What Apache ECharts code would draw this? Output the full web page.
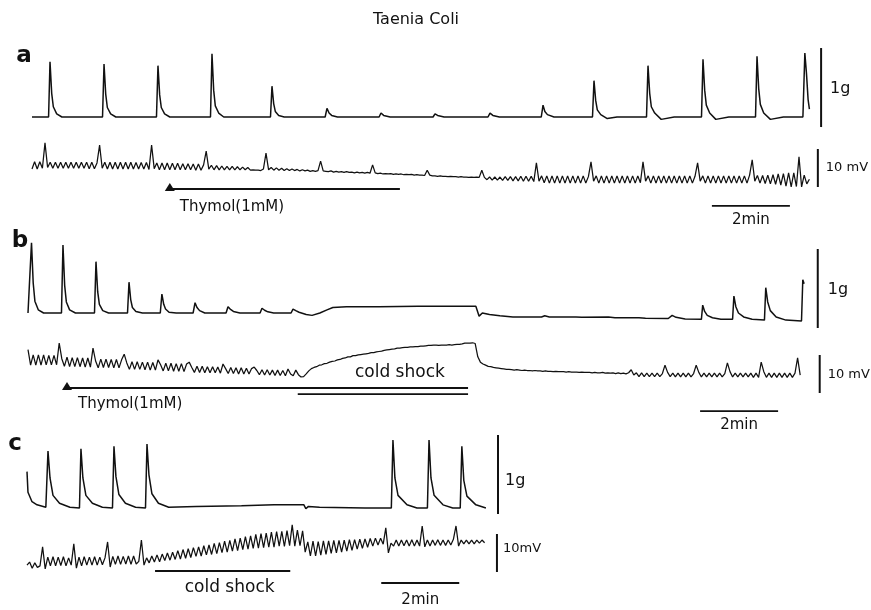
<!DOCTYPE html>
<html>
<head>
<meta charset="utf-8">
<script src="https://cdn.jsdelivr.net/npm/echarts@6/dist/echarts.min.js"></script>
<style>html,body{margin:0;padding:0;background:#fff}#chart{width:871px;height:610px}</style>
</head>
<body>
<div id="chart"></div>
<script>
// ================= DATA =================
const TITLE = 'Taenia Coli';
const PANEL_LETTERS = ['a', 'b', 'c'];

// Tension traces: [time (s), tension (g) relative to resting baseline]
const tensionA = [
  [0,0],[25.5,0],[27.7,0.70],[30.3,0.30],[32.8,0.13],[38,0.04],[46,0],
  [108.5,0],[110.8,0.67],[113.4,0.29],[115.9,0.12],[121,0.04],[129,0],
  [191.5,0],[193.8,0.65],[196.4,0.28],[198.9,0.12],[204,0.04],[212,0],
  [274.6,0],[276.9,0.80],[279.5,0.34],[282,0.14],[287.2,0.05],[295,0],
  [366.9,0],[369.2,0.39],[371.8,0.17],[374.3,0.07],[379.5,0.02],[388,0],
  [451,0],[453.8,0.11],[457,0.05],[461,0.02],[470,0],
  [534,0],[536.9,0.05],[541,0.02],[551,0],
  [617,0],[620,0.04],[624,0.02],[634,0],
  [701.5,0],[704.6,0.05],[709,0.02],[719,0],
  [783.5,0],[786.2,0.15],[789,0.07],[793,0.03],[803,0],
  [862.3,0],[864.6,0.46],[867.2,0.21],[869.7,0.09],[875,0.03],[885,-0.02],[900,0],
  [945.4,0],[947.7,0.65],[950.3,0.30],[952.8,0.13],[958,0.05],[968,-0.03],[988,0],
  [1030,0],[1032.3,0.73],[1034.9,0.34],[1037.4,0.15],[1042.6,0.05],[1052,-0.03],[1072,0],
  [1113.1,0],[1115.4,0.77],[1118,0.36],[1120.5,0.16],[1125.7,0.05],[1136,-0.03],[1156,0],
  [1186,0],[1189,0.81],[1191.5,0.55],[1194,0.22],[1196,0.1]
];
const tensionB = [
  [0,0],[3,0.5],[5.4,0.89],[8,0.38],[10.6,0.15],[15.8,0.04],[24,0],
  [51.5,0],[53.8,0.86],[56.4,0.35],[59,0.14],[64,0.04],[73,0],
  [102.3,0],[104.6,0.65],[107.2,0.27],[109.8,0.11],[115,0.03],[124,0],
  [153.1,0],[155.4,0.39],[158,0.17],[160.6,0.07],[166,0.02],[176,0],
  [203.5,0],[206,0.24],[208.8,0.11],[211.6,0.05],[217,0.01],[228,0],
  [254,0],[257,0.13],[260,0.07],[264,0.03],[272,0],
  [304.7,0],[307.7,0.08],[311,0.05],[316,0.02],[326,0],
  [357,0],[360,0.06],[364,0.035],[369,0.015],[378,0],
  [404.7,0],[407.7,0.05],[412,0.03],[417,0.01],[428,-0.02],[437,-0.03],[449,0],[460,0.04],[469,0.07],
  [490,0.08],[540,0.08],[600,0.085],[650,0.085],[689,0.085],
  [694,-0.04],[699,0],[710,-0.02],[726,-0.035],[746,-0.05],[790,-0.05],[795,-0.035],[802,-0.05],
  [843,-0.05],[846,-0.035],[852,-0.055],[893,-0.05],[896,-0.04],[903,-0.06],[940,-0.06],[943,-0.05],
  [950,-0.065],[985,-0.07],[991,-0.03],[997,-0.055],[1011,-0.075],
  [1036,-0.08],[1038,0.10],[1041,0.02],[1045,-0.03],[1053,-0.06],[1066,-0.08],
  [1084,-0.08],[1086,0.215],[1089,0.08],[1093,0.0],[1101,-0.05],[1114,-0.08],
  [1133,-0.09],[1135,0.32],[1138,0.14],[1142,0.03],[1151,-0.05],[1166,-0.09],
  [1190,-0.1],[1192,0.42],[1194,0.37]
];
const tensionC = [
  [0,0.46],[1.5,0.2],[7.7,0.08],[15.4,0.04],[29,0.01],
  [30,0.01],[32.3,0.72],[35.4,0.38],[40,0.16],[50,0.06],[66,0.01],
  [80.7,0],[83,0.75],[86,0.38],[90.6,0.16],[100.6,0.06],[116,0.01],
  [131.5,0],[133.8,0.78],[136.8,0.40],[141.4,0.17],[151.4,0.06],[167,0.01],
  [182.3,0],[184.6,0.81],[187.6,0.42],[192.2,0.18],[202.2,0.06],[218,0.01],[260,0.02],[330,0.03],
  [380,0.04],[426,0.04],[429,-0.01],[433,0.02],[450,0.01],[520,0],
  [560.5,0],[563,0.86],[566,0.38],[570.8,0.16],[584.6,0.04],[600,0],
  [616,0],[618.5,0.86],[621.5,0.38],[626.3,0.16],[640,0.04],[655,0],
  [666.5,0],[669,0.78],[672,0.35],[676.8,0.15],[690.6,0.04],[706,0]
];

// Electrical traces: membrane potential (mV), one reading every ELEC_DT seconds
const ELEC_DT = 4;
const elecA = [
  4.2,6.1,4.2,6.1,4.4,11.1,4.6,6.0,4.4,6.0,
  4.4,6.0,4.4,6.0,4.4,6.0,4.4,6.0,4.4,6.0,
  4.4,6.0,4.3,6.0,4.3,5.8,10.5,4.4,6.0,4.2,
  6.0,4.2,6.0,4.2,6.0,4.2,6.0,4.2,6.0,4.2,
  5.9,4.2,5.9,4.2,5.9,4.1,10.5,4.3,5.8,4.0,
  5.8,4.0,5.8,4.0,5.7,4.0,5.7,4.0,5.6,4.0,
  5.6,4.0,5.5,3.9,5.5,3.9,5.3,8.9,4.2,5.2,
  4.0,5.1,4.0,5.0,4.0,4.9,4.0,4.9,4.0,4.8,
  4.0,4.7,4.0,4.6,3.9,4.0,3.9,3.9,3.8,4.2,
  8.4,4.0,4.6,3.9,4.5,3.9,4.4,3.8,4.3,3.8,
  4.2,3.8,4.1,3.7,4.0,3.7,3.9,3.6,3.8,3.6,
  3.8,6.3,3.7,3.6,3.5,3.7,3.4,3.6,3.4,3.5,
  3.3,3.5,3.3,3.4,3.2,3.4,3.2,3.3,3.1,3.3,
  3.1,5.3,3.2,3.0,3.1,2.9,3.0,2.9,3.0,2.8,
  2.9,2.8,2.9,2.7,2.8,2.7,2.8,2.6,2.7,2.6,
  2.6,2.5,3.9,2.6,2.4,2.4,2.3,2.4,2.3,2.3,
  2.2,2.3,2.2,2.2,2.1,2.2,2.1,2.1,2.0,2.1,
  2.0,2.1,2.0,3.9,2.0,1.4,2.1,1.3,2.1,1.3,
  2.1,1.2,2.2,1.2,2.2,1.1,2.2,1.1,2.3,1.0,
  2.3,1.0,2.3,0.9,5.8,1.0,2.4,0.6,2.4,0.5,
  2.4,0.5,2.4,0.5,2.4,0.5,2.4,0.5,2.4,0.5,
  2.4,0.5,2.4,0.5,2.2,6.1,1.0,2.4,0.5,2.4,
  0.5,2.4,0.5,2.4,0.5,2.4,0.5,2.4,0.5,2.4,
  0.5,2.4,0.5,2.4,0.6,6.1,1.0,2.4,0.5,2.4,
  0.5,2.4,0.5,2.4,0.5,2.4,0.5,2.4,0.5,2.4,
  0.5,2.4,0.5,2.4,0.5,2.3,5.8,1.0,2.4,0.5,
  2.4,0.5,2.4,0.5,2.4,0.5,2.4,0.5,2.4,0.5,
  2.4,0.5,2.4,0.5,2.4,0.5,2.6,6.6,1.0,2.5,
  0.5,2.5,0.4,2.6,0.3,2.7,0.2,2.9,0.0,3.0,
  -0.3,3.2,-0.5,3.2,-0.4,7.4,-0.5,2.6,0.3,1.5
];
const elecB = [
  8.0,3.9,6.6,3.9,6.6,3.9,6.6,4.0,6.5,4.0,
  6.5,4.0,9.7,5.6,3.6,6.0,3.5,5.9,3.5,5.9,
  3.5,5.8,3.4,5.8,3.4,8.4,5.0,3.2,5.5,3.3,
  5.5,3.3,5.4,3.2,5.4,3.2,5.3,6.8,4.5,2.8,
  4.8,2.8,4.8,2.8,4.7,2.7,4.7,2.6,4.6,2.6,
  5.3,4.0,2.4,4.4,2.4,4.4,2.3,4.3,2.3,4.3,
  2.2,4.2,4.7,3.3,2.0,3.6,2.0,3.6,1.9,3.5,
  1.9,3.5,1.9,3.4,1.8,4.2,3.0,1.7,3.3,1.7,
  3.2,1.6,3.2,1.6,3.1,1.6,3.0,3.4,2.5,1.4,
  2.7,1.3,2.7,1.3,2.6,1.2,2.6,1.2,2.5,1.1,
  2.9,1.6,1.1,2.6,1.4,0.8,0.9,1.6,2.4,3.0,
  3.3,3.5,3.9,4.0,4.3,4.4,4.7,4.9,5.0,5.3,
  5.4,5.7,5.8,6.1,6.1,6.4,6.4,6.6,6.7,6.8,
  6.9,7.0,7.2,7.2,7.4,7.5,7.6,7.8,7.9,8.0,
  8.1,8.2,8.4,8.4,8.5,8.6,8.6,8.7,8.7,8.8,
  8.8,8.9,8.9,9.0,9.1,9.1,9.2,9.2,9.1,9.2,
  9.2,9.2,9.3,9.2,9.3,9.4,9.4,9.5,9.7,9.7,
  9.7,9.8,9.6,6.1,4.7,4.2,3.9,3.6,3.5,3.3,
  3.2,3.1,3.0,2.9,2.8,2.8,2.7,2.6,2.7,2.6,
  2.5,2.6,2.5,2.5,2.4,2.5,2.4,2.4,2.3,2.4,
  2.3,2.3,2.2,2.3,2.2,2.2,2.2,2.1,2.2,2.1,
  2.1,2.1,2.0,2.1,2.0,2.0,2.0,1.9,2.0,1.9,
  1.9,2.0,1.8,1.9,1.8,1.9,1.7,1.9,1.7,1.8,
  1.6,1.9,2.7,1.3,1.9,0.9,1.9,0.9,1.8,0.9,
  1.8,0.9,1.8,0.9,1.7,3.9,2.0,0.9,1.8,0.8,
  1.8,0.8,1.8,0.8,1.8,0.8,1.7,3.9,2.0,0.8,
  1.8,0.8,1.8,0.8,1.8,0.8,1.8,0.8,1.7,4.5,
  2.2,0.8,1.8,0.8,1.8,0.8,1.8,0.8,1.8,0.7,
  1.8,0.7,4.7,2.2,0.7,1.8,0.7,1.8,0.7,1.8,
  0.7,1.8,0.7,1.8,0.7,1.8,5.8,1.3
];
const elecC = [
  2.6,3.4,1.8,3.2,2.0,2.4,7.4,1.6,4.7,2.4,
  4.8,2.4,4.7,2.5,4.8,2.4,4.5,2.6,8.2,1.8,
  4.7,2.4,4.8,2.6,4.7,2.6,4.8,2.6,4.7,2.7,
  4.5,8.7,2.1,4.9,2.8,5.0,2.8,4.9,2.9,5.0,
  2.8,5.0,2.9,3.6,9.2,2.6,4.5,3.2,5.0,3.4,
  5.3,3.5,5.5,3.8,5.8,3.9,6.0,4.1,6.4,4.2,
  6.7,4.4,6.9,4.6,7.2,4.9,7.4,5.0,7.7,5.3,
  7.9,5.4,8.3,5.6,8.5,5.9,8.9,6.0,9.1,6.3,
  9.5,6.4,9.7,6.7,10.1,6.8,10.3,7.0,10.7,7.1,
  10.9,7.2,11.0,7.3,11.3,7.3,11.4,7.6,11.5,7.5,
  11.7,7.7,13.2,7.6,11.8,7.7,11.6,6.0,8.7,5.0,
  8.9,5.0,8.8,5.2,9.0,5.4,9.0,5.7,9.1,5.8,
  9.1,6.0,9.2,6.3,9.3,6.5,9.3,6.8,9.4,7.0,
  9.5,7.3,9.6,7.6,9.7,7.9,9.7,8.1,12.4,5.8,
  8.4,7.6,9.2,7.6,9.2,7.7,9.2,7.6,9.3,7.6,
  9.2,7.6,12.9,7.4,9.2,7.6,9.2,7.8,9.3,7.8,
  9.2,7.8,9.2,7.9,9.4,12.9,7.6,9.2,8.2,9.2,
  8.2,9.2,8.2,9.2,8.4,9.2,8.5
];

// Events: [start s, end s]
const thymolA = [212, 566];
const thymolB = [60, 677];
const coldShockB = [415, 677];
const coldShockC = [197, 405];

// Calibration bars
const SCALE_G = 1;      // g
const SCALE_MV = 10;    // mV
const SCALE_MIN = 2;    // min
const TXT_G = '1g', TXT_MV = '10 mV', TXT_MV_C = '10mV', TXT_TIME = '2min';
const TXT_THYMOL = 'Thymol(1mM)', TXT_COLD = 'cold shock';

// ================= LAYOUT =================
const PX_PER_S = 0.65, PX_PER_G = 79, PX_PER_MV = 3.8;
const INK = '#111111';
const FONT = 'DejaVu Sans';
const panels = [
  { left: 32, width: 820,
    ten: { top: 40, height: 95, zero: 117 }, ele: { top: 135, height: 95, zero: 185 },
    tension: tensionA, elec: elecA,
    gBar: { t: 1214, from: -0.127, dx: 9, dy: 1 }, mvBar: { t: 1209, from: -0.53, dx: 8, dy: 0, txt: TXT_MV },
    timeBar: { t: 1046, y: -5.5, dy: 14 },
    thymol: { ev: thymolA, y: -1.05, dx: 10, dy: 18 },
    letter: { x: 24, y: 56 } },
  { left: 28, width: 820,
    ten: { top: 235, height: 97, zero: 313 }, ele: { top: 332, height: 100, zero: 380 },
    tension: tensionB, elec: elecB,
    gBar: { t: 1215, from: -0.19, dx: 10, dy: 1 }, mvBar: { t: 1218, from: -3.42, dx: 8, dy: 1, txt: TXT_MV },
    timeBar: { t: 1034, y: -8.2, dy: 14 },
    thymol: { ev: thymolB, y: -2.1, dx: 11, dy: 16 },
    cold: { ev: coldShockB, y: -3.7, dx: 17, dy: -21 },
    letter: { x: 20, y: 241 } },
  { left: 27, width: 520,
    ten: { top: 430, height: 90, zero: 508 }, ele: { top: 520, height: 90, zero: 575 },
    tension: tensionC, elec: elecC,
    gBar: { t: 724.6, from: -0.076, dx: 7, dy: 6 }, mvBar: { t: 723, from: 0.79, dx: 6, dy: -4, txt: TXT_MV_C },
    timeBar: { t: 545, y: -2.1, dy: 17 },
    cold: { ev: coldShockC, y: 1.05, dx: 7, dy: 17 },
    letter: { x: 15, y: 444 } }
];

function yRange(g, ppu) {
  return { min: -(g.top + g.height - g.zero) / ppu, max: (g.zero - g.top) / ppu };
}

const grids = [], xAxes = [], yAxes = [], series = [];
const lineBase = { type: 'line', symbol: 'none', silent: true, animation: false, z: 3 };

panels.forEach((p, k) => {
  const xMax = p.width / PX_PER_S;
  const gi = [2 * k, 2 * k + 1];
  [[p.ten, PX_PER_G], [p.ele, PX_PER_MV]].forEach(([g, ppu], j) => {
    grids.push({ left: p.left, width: p.width, top: g.top, height: g.height, show: false });
    xAxes.push({ type: 'value', gridIndex: gi[j], min: 0, max: xMax, show: false });
    const r = yRange(g, ppu);
    yAxes.push({ type: 'value', gridIndex: gi[j], min: r.min, max: r.max, show: false, splitLine: { show: false } });
  });
  // traces
  series.push(Object.assign({}, lineBase, {
    xAxisIndex: gi[0], yAxisIndex: gi[0], data: p.tension,
    lineStyle: { color: INK, width: 1.5 }
  }));
  series.push(Object.assign({}, lineBase, {
    xAxisIndex: gi[1], yAxisIndex: gi[1], data: p.elec.map((v, i) => [i * ELEC_DT, v]),
    lineStyle: { color: INK, width: 1.25 }
  }));
  // calibration bars
  series.push(Object.assign({}, lineBase, {
    xAxisIndex: gi[0], yAxisIndex: gi[0],
    data: [[p.gBar.t, p.gBar.from], [p.gBar.t, p.gBar.from + SCALE_G]],
    lineStyle: { color: INK, width: 2 }
  }));
  series.push(Object.assign({}, lineBase, {
    xAxisIndex: gi[1], yAxisIndex: gi[1],
    data: [[p.mvBar.t, p.mvBar.from], [p.mvBar.t, p.mvBar.from + SCALE_MV]],
    lineStyle: { color: INK, width: 2 }
  }));
  series.push(Object.assign({}, lineBase, {
    xAxisIndex: gi[1], yAxisIndex: gi[1],
    data: [[p.timeBar.t, p.timeBar.y], [p.timeBar.t + SCALE_MIN * 60, p.timeBar.y]],
    lineStyle: { color: INK, width: 1.8 }
  }));
  if (p.thymol) {
    series.push(Object.assign({}, lineBase, {
      xAxisIndex: gi[1], yAxisIndex: gi[1], symbol: 'triangle', showSymbol: true,
      data: [{ value: [p.thymol.ev[0], p.thymol.y], symbol: 'triangle', symbolSize: [10, 8], symbolOffset: [0, -2] },
             { value: [p.thymol.ev[1], p.thymol.y], symbol: 'none' }],
      itemStyle: { color: INK }, lineStyle: { color: INK, width: 1.8 }
    }));
  }
  if (p.cold) {
    series.push(Object.assign({}, lineBase, {
      xAxisIndex: gi[1], yAxisIndex: gi[1],
      data: [[p.cold.ev[0], p.cold.y], [p.cold.ev[1], p.cold.y]],
      lineStyle: { color: INK, width: 1.8 }
    }));
  }
});

const chart = echarts.init(document.getElementById('chart'), null, { renderer: 'canvas' });
chart.setOption({
  animation: false,
  backgroundColor: '#ffffff',
  grid: grids, xAxis: xAxes, yAxis: yAxes, series: series
});

function txt(text, x, y, size, align, vAlign, weight) {
  return {
    type: 'text', x: x, y: y, silent: true, z: 10,
    style: {
      text: text, fill: INK, font: (weight || 'normal') + ' ' + size + 'px "' + FONT + '"',
      fontSize: size, fontFamily: FONT, fontWeight: weight || 'normal',
      align: align, textAlign: align, verticalAlign: vAlign, textVerticalAlign: vAlign
    }
  };
}
const graphics = [txt(TITLE, 416, 20, 16, 'center', 'middle')];
panels.forEach((p, k) => {
  const gi = [2 * k, 2 * k + 1];
  graphics.push(txt(PANEL_LETTERS[k], p.letter.x, p.letter.y, 23, 'center', 'middle', 'bold'));
  let q = chart.convertToPixel({ gridIndex: gi[0] }, [p.gBar.t, p.gBar.from + SCALE_G / 2]);
  graphics.push(txt(TXT_G, q[0] + p.gBar.dx, q[1] + p.gBar.dy, 16, 'left', 'middle'));
  q = chart.convertToPixel({ gridIndex: gi[1] }, [p.mvBar.t, p.mvBar.from + SCALE_MV / 2]);
  graphics.push(txt(p.mvBar.txt, q[0] + p.mvBar.dx, q[1] + p.mvBar.dy, 13, 'left', 'middle'));
  q = chart.convertToPixel({ gridIndex: gi[1] }, [p.timeBar.t + SCALE_MIN * 30, p.timeBar.y]);
  graphics.push(txt(TXT_TIME, q[0], q[1] + p.timeBar.dy, 15, 'center', 'middle'));
  if (p.thymol) {
    q = chart.convertToPixel({ gridIndex: gi[1] }, [p.thymol.ev[0], p.thymol.y]);
    graphics.push(txt(TXT_THYMOL, q[0] + p.thymol.dx, q[1] + p.thymol.dy, 15, 'left', 'middle'));
  }
  if (p.cold) {
    q = chart.convertToPixel({ gridIndex: gi[1] }, [(p.cold.ev[0] + p.cold.ev[1]) / 2, p.cold.y]);
    graphics.push(txt(TXT_COLD, q[0] + p.cold.dx, q[1] + p.cold.dy, 17, 'center', 'middle'));
  }
});
chart.setOption({ graphic: graphics });
</script>
</body>
</html>
